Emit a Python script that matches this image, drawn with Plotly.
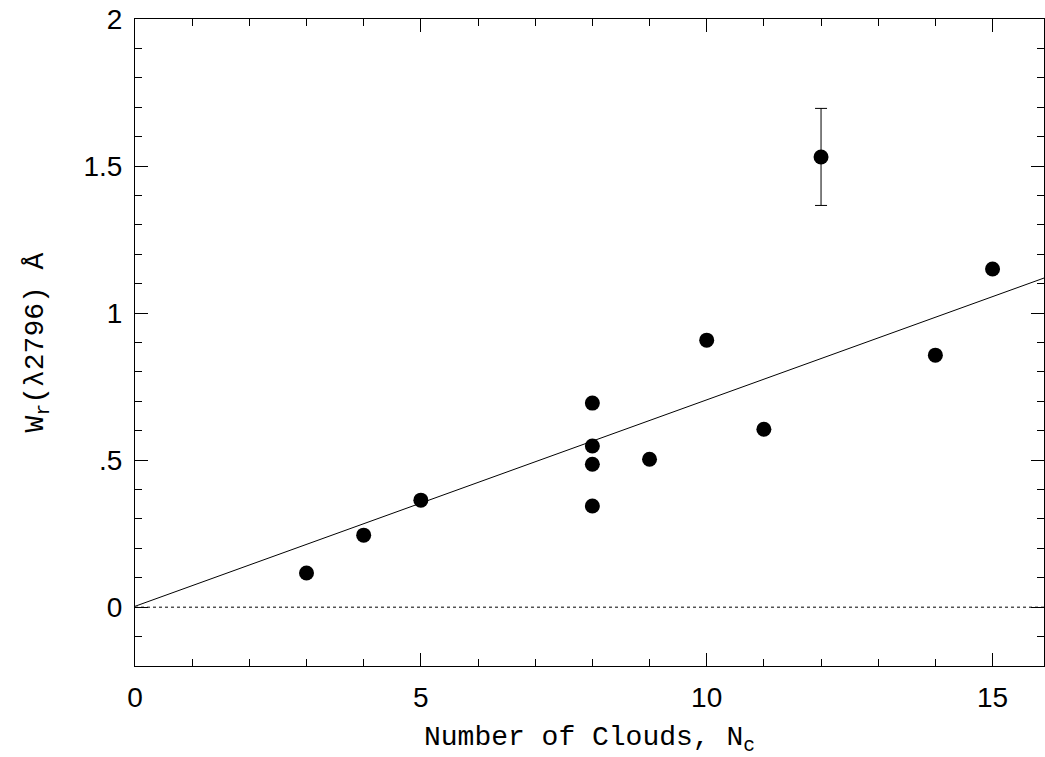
import plotly.graph_objects as go

n_clouds = [3, 4, 5, 8, 8, 8, 8, 9, 10, 11, 12, 14, 15]
wr = [0.116, 0.245, 0.364, 0.694, 0.548, 0.486, 0.344, 0.503, 0.908, 0.605, 1.531, 0.857, 1.150]
wr_err = [0, 0, 0, 0, 0, 0, 0, 0, 0, 0, 0.165, 0, 0]
err_visible = [False]*10 + [True] + [False]*2

fit_x = [0, 16]
fit_intercept = 0.003
fit_slope = 0.0702
fit_y = [fit_intercept + fit_slope * x for x in fit_x]

zero_x = [0, 16]
zero_y = [0, 0]

x_ticks = [0, 5, 10, 15]
x_ticktext = ["0", "5", "10", "15"]
y_ticks = [0, 0.5, 1, 1.5, 2]
y_ticktext = ["0", ".5", "1", "1.5", "2"]

fig = go.Figure()
fig.add_trace(go.Scatter(x=zero_x, y=zero_y, mode="lines",
                         line=dict(color="black", width=1, dash="dot"), showlegend=False))
fig.add_trace(go.Scatter(x=fit_x, y=fit_y, mode="lines",
                         line=dict(color="black", width=1), showlegend=False))
ex = [x for x, v in zip(n_clouds, err_visible) if v]
ey = [y for y, v in zip(wr, err_visible) if v]
ee = [e for e, v in zip(wr_err, err_visible) if v]
fig.add_trace(go.Scatter(x=ex, y=ey, mode="markers",
                         marker=dict(size=1, color="rgba(0,0,0,0)"),
                         error_y=dict(type="data", array=ee, color="black", thickness=1, width=6),
                         showlegend=False))
fig.add_trace(go.Scatter(x=n_clouds, y=wr, mode="markers",
                         marker=dict(size=15, color="black"), showlegend=False))
# invisible trace to activate mirror axes (top/right) for minor ticks
fig.add_trace(go.Scatter(x=[0], y=[0], xaxis="x2", yaxis="y2", mode="markers",
                         marker=dict(size=1, color="rgba(0,0,0,0)"), showlegend=False,
                         hoverinfo="skip"))

tickfont = dict(family="Liberation Sans, Arial", size=28, color="black")
titlefont = dict(family="Liberation Mono, Courier New", size=28, color="black")

xr = [0, 15.9]
yr = [-0.2, 2.0]

fig.update_layout(
    width=1045, height=757,
    margin=dict(l=135, r=1, t=19, b=91, autoexpand=False),
    plot_bgcolor="white", paper_bgcolor="white",
    xaxis=dict(range=xr, showgrid=False, zeroline=False, automargin=False,
               showline=True, linecolor="black", linewidth=1, mirror=True,
               ticks="inside", ticklen=13, tickcolor="black",
               tickvals=x_ticks, ticktext=x_ticktext,
               minor=dict(dtick=1, ticks="inside", ticklen=7, tickcolor="black", showgrid=False),
               tickfont=tickfont, ticklabelstandoff=6, ticklabeloverflow="allow",
               title=dict(text="Number of Clouds, N<sub>c</sub>", font=titlefont, standoff=16)),
    yaxis=dict(range=yr, showgrid=False, zeroline=False, automargin=False,
               showline=True, linecolor="black", linewidth=1, mirror=True,
               ticks="inside", ticklen=13, tickcolor="black",
               tickvals=y_ticks, ticktext=y_ticktext,
               minor=dict(dtick=0.1, ticks="inside", ticklen=7, tickcolor="black", showgrid=False),
               tickfont=tickfont, ticklabelstandoff=6, ticklabeloverflow="allow",
               title=dict(text="W<sub>r</sub>(λ2796) Å", font=titlefont, standoff=31)),
    xaxis2=dict(range=xr, overlaying="x", side="top", showgrid=False, zeroline=False,
                showline=True, linecolor="black", linewidth=1, automargin=False,
                showticklabels=False, ticks="inside", ticklen=13, tickcolor="black",
                tickvals=x_ticks,
                minor=dict(dtick=1, ticks="inside", ticklen=7, tickcolor="black", showgrid=False)),
    yaxis2=dict(range=yr, overlaying="y", side="right", showgrid=False, zeroline=False,
                showline=True, linecolor="black", linewidth=1, automargin=False,
                showticklabels=False, ticks="inside", ticklen=13, tickcolor="black",
                tickvals=y_ticks,
                minor=dict(dtick=0.1, ticks="inside", ticklen=7, tickcolor="black", showgrid=False)),
)

fig.write_html("out.html", config={"displayModeBar": False},
               post_script="document.body.style.margin='0';document.body.style.overflow='hidden';")
